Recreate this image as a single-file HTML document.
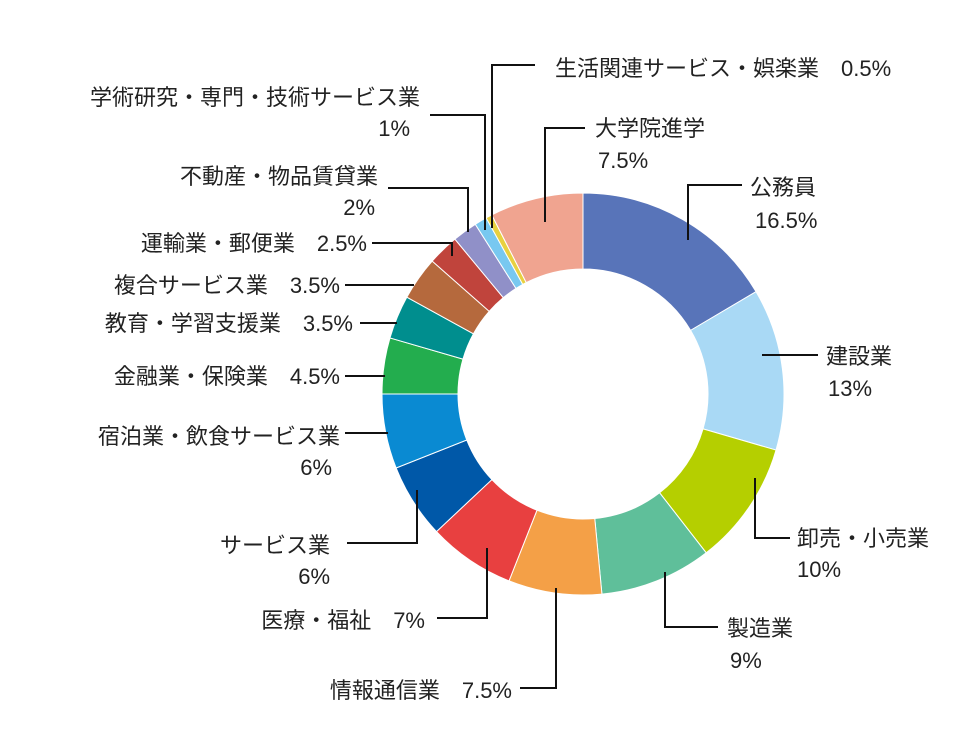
<!DOCTYPE html>
<html><head><meta charset="utf-8">
<style>
html,body{margin:0;padding:0;background:#fff;}
svg{display:block;}
text{font-family:"Liberation Sans Narrow","Liberation Sans","Noto Sans CJK JP",sans-serif;font-size:22px;fill:#222;}
.ld{fill:none;stroke:#111;stroke-width:2;}
</style></head>
<body>
<svg id="chart" width="980" height="751" viewBox="0 0 980 751">
<g id="slices"></g>
<g>
<polyline class="ld" points="688,240 688,185 742,185"/>
<polyline class="ld" points="762,355 818,355"/>
<polyline class="ld" points="755,478 755,538 790,538"/>
<polyline class="ld" points="665,572 665,627 718,627"/>
<polyline class="ld" points="556,588 556,688 520,688"/>
<polyline class="ld" points="487,548 487,618 437,618"/>
<polyline class="ld" points="417,490 417,543 347,543"/>
<polyline class="ld" points="345,433 388,433"/>
<polyline class="ld" points="345,376 385,376"/>
<polyline class="ld" points="360,323 397,323"/>
<polyline class="ld" points="345,285 414,285"/>
<polyline class="ld" points="372,243 452,243 452,256"/>
<polyline class="ld" points="388,188 468,188 468,232"/>
<polyline class="ld" points="430,115 485,115 485,230"/>
<polyline class="ld" points="535,65 492,65 492,228"/>
<polyline class="ld" points="585,128 545,128 545,222"/>
</g>
<g>
<text x="750" y="195">公務員</text>
<text x="755" y="228">16.5%</text>
<text x="826" y="364">建設業</text>
<text x="828" y="396">13%</text>
<text x="797" y="546">卸売・小売業</text>
<text x="797" y="577">10%</text>
<text x="727" y="636">製造業</text>
<text x="730" y="668">9%</text>
<text x="512" y="698" text-anchor="end">情報通信業　7.5%</text>
<text x="425" y="628" text-anchor="end">医療・福祉　7%</text>
<text x="330" y="553" text-anchor="end">サービス業</text>
<text x="330" y="584" text-anchor="end">6%</text>
<text x="340" y="444" text-anchor="end">宿泊業・飲食サービス業</text>
<text x="332" y="475" text-anchor="end">6%</text>
<text x="340" y="384" text-anchor="end">金融業・保険業　4.5%</text>
<text x="353" y="331" text-anchor="end">教育・学習支援業　3.5%</text>
<text x="340" y="293" text-anchor="end">複合サービス業　3.5%</text>
<text x="367" y="251" text-anchor="end">運輸業・郵便業　2.5%</text>
<text x="378" y="184" text-anchor="end">不動産・物品賃貸業</text>
<text x="375" y="215" text-anchor="end">2%</text>
<text x="420" y="105" text-anchor="end">学術研究・専門・技術サービス業</text>
<text x="410" y="136" text-anchor="end">1%</text>
<text x="555" y="76">生活関連サービス・娯楽業　0.5%</text>
<text x="595" y="136">大学院進学</text>
<text x="598" y="168">7.5%</text>
</g>
</svg>
<script>
const categories = ["公務員","建設業","卸売・小売業","製造業","情報通信業","医療・福祉","サービス業","宿泊業・飲食サービス業","金融業・保険業","教育・学習支援業","複合サービス業","運輸業・郵便業","不動産・物品賃貸業","学術研究・専門・技術サービス業","生活関連サービス・娯楽業","大学院進学"];
const values = [16.5,13,10,9,7.5,7,6,6,4.5,3.5,3.5,2.5,2,1,0.5,7.5];
const colors = ["#5874b9","#a9d9f5","#b5cf00","#5fbf9a","#f4a047","#e84040","#0058a8","#0a8ad2","#23ad4e","#008e8e","#b5693d","#c0443c","#9090c8","#78c8f0","#e8d040","#f0a490"];
const cx=583, cy=394, R=201, r=125;
const total = values.reduce((a,b)=>a+b,0);
function pt(rad, a){return [cx+rad*Math.sin(a), cy-rad*Math.cos(a)];}
const g=document.getElementById('slices');
let acc=0;
values.forEach((v,i)=>{
  const a0=acc/total*2*Math.PI; acc+=v; const a1=acc/total*2*Math.PI;
  const large=(a1-a0)>Math.PI?1:0;
  const p0=pt(R,a0),p1=pt(R,a1),q1=pt(r,a1),q0=pt(r,a0);
  const p=document.createElementNS('http://www.w3.org/2000/svg','path');
  p.setAttribute('d',`M${p0[0]},${p0[1]} A${R},${R} 0 ${large} 1 ${p1[0]},${p1[1]} L${q1[0]},${q1[1]} A${r},${r} 0 ${large} 0 ${q0[0]},${q0[1]} Z`);
  p.setAttribute('fill',colors[i]);
  p.setAttribute('stroke','#fff');
  p.setAttribute('stroke-width','1');
  
  
  const t=document.createElementNS('http://www.w3.org/2000/svg','title');
  t.textContent=categories[i]+' '+v+'%';
  p.appendChild(t);
  g.appendChild(p);
});
</script>
</body></html>
